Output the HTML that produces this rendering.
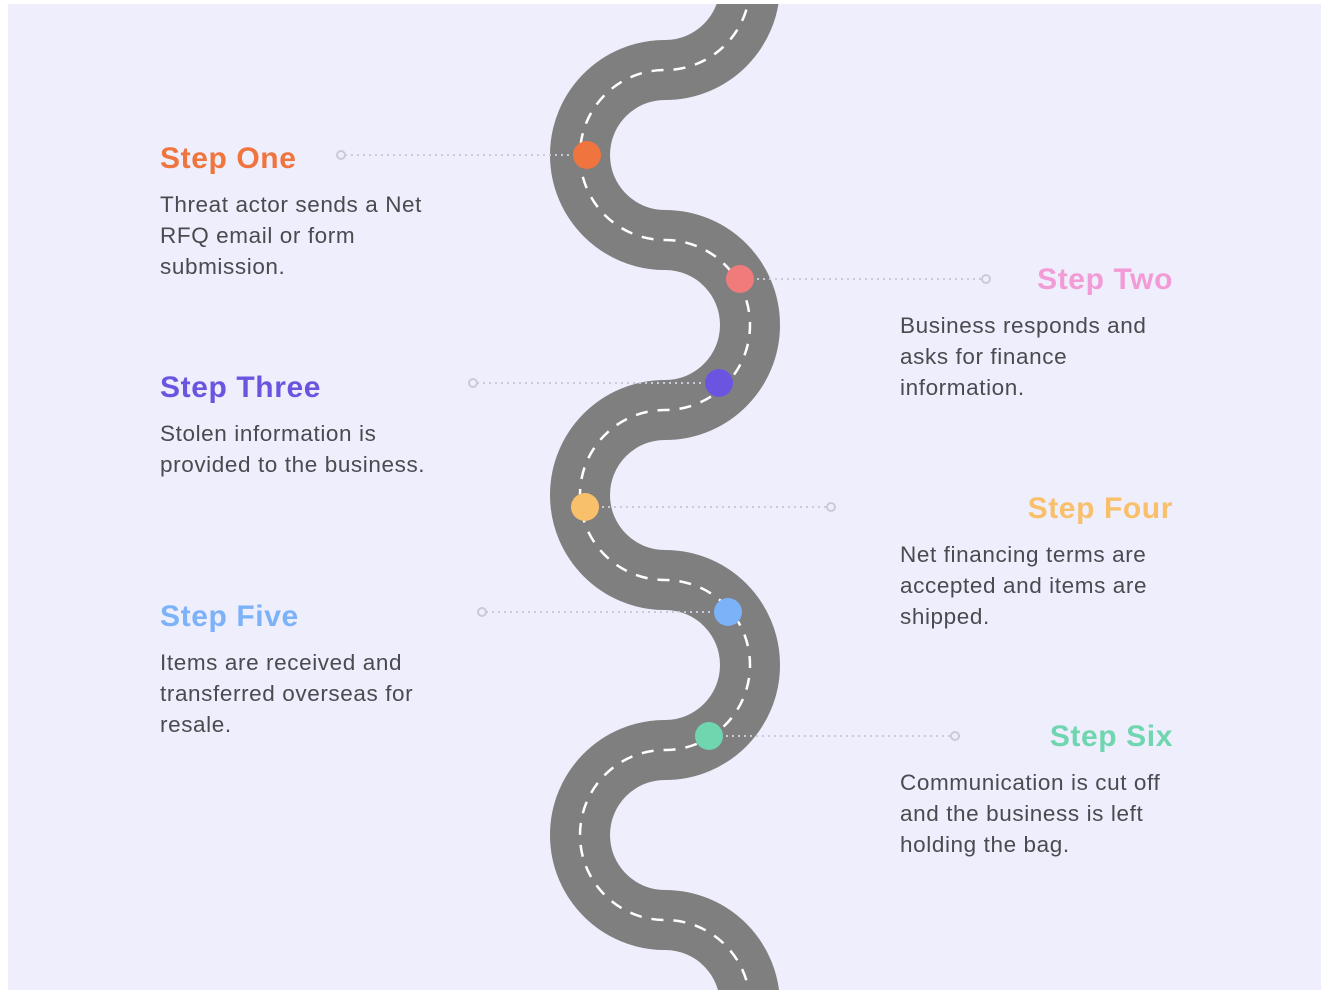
<!DOCTYPE html>
<html><head><meta charset="utf-8"><style>
html,body{margin:0;padding:0;background:#fff;width:1330px;height:998px;overflow:hidden}
svg{display:block;overflow:hidden}
.t{font-family:"Liberation Sans",Arial,sans-serif;font-weight:bold;font-size:30px;letter-spacing:0.6px}
.b{font-family:"Liberation Sans",Arial,sans-serif;font-size:22.5px;letter-spacing:0.6px;fill:#4a4a4f}
</style></head><body>
<svg width="1330" height="998" viewBox="0 0 1330 998" xmlns="http://www.w3.org/2000/svg">
<defs><clipPath id="c"><rect x="8" y="4" width="1313" height="986"/></clipPath></defs>
<rect x="8" y="4" width="1313" height="986" fill="#eeeefc"/>
<g clip-path="url(#c)">
<path d="M 750 -100 L 750 -15 C 750 32 712 70 665 70 C 618 70 580 108 580 155 C 580 202 618 240 665 240 C 712 240 750 278 750 325 C 750 372 712 410 665 410 C 618 410 580 448 580 495 C 580 542 618 580 665 580 C 712 580 750 618 750 665 C 750 712 712 750 665 750 C 618 750 580 788 580 835 C 580 882 618 920 665 920 C 712 920 750 958 750 1005 L 750 1100" fill="none" stroke="#7f7f7f" stroke-width="60"/>
<path d="M 750 -100 L 750 -15 C 750 32 712 70 665 70 C 618 70 580 108 580 155 C 580 202 618 240 665 240 C 712 240 750 278 750 325 C 750 372 712 410 665 410 C 618 410 580 448 580 495 C 580 542 618 580 665 580 C 712 580 750 618 750 665 C 750 712 712 750 665 750 C 618 750 580 788 580 835 C 580 882 618 920 665 920 C 712 920 750 958 750 1005 L 750 1100" fill="none" stroke="#fff" stroke-width="2.5" stroke-dasharray="12 10"/>
</g>
<g stroke="#c9ccd8" stroke-width="2" stroke-dasharray="2 4" fill="none">
<line x1="345" y1="155" x2="580" y2="155"/>
<line x1="745" y1="279" x2="982" y2="279"/>
<line x1="477" y1="383" x2="715" y2="383"/>
<line x1="590" y1="507" x2="827" y2="507"/>
<line x1="486" y1="612" x2="724" y2="612"/>
<line x1="714" y1="736" x2="951" y2="736"/>
</g>
<g stroke="#c9ccd8" stroke-width="2" fill="#eeeefc">
<circle cx="341" cy="155" r="4"/><circle cx="986" cy="279" r="4"/>
<circle cx="473" cy="383" r="4"/><circle cx="831" cy="507" r="4"/>
<circle cx="482" cy="612" r="4"/><circle cx="955" cy="736" r="4"/>
</g>
<circle cx="587" cy="155" r="14" fill="#f0743e"/>
<circle cx="740" cy="279" r="14" fill="#f07b7b"/>
<circle cx="719" cy="383" r="14" fill="#6b55e0"/>
<circle cx="585" cy="507" r="14" fill="#f8c06a"/>
<circle cx="728" cy="612" r="14" fill="#7bb2f8"/>
<circle cx="709" cy="736" r="14" fill="#6fd6b0"/>

<text class="t" x="160" y="168" fill="#f0743e">Step One</text>
<text class="b" x="160" y="212">Threat actor sends a Net</text>
<text class="b" x="160" y="243">RFQ email or form</text>
<text class="b" x="160" y="274">submission.</text>

<text class="t" x="1173" y="289" fill="#f39bd6" text-anchor="end">Step Two</text>
<text class="b" x="900" y="333">Business responds and</text>
<text class="b" x="900" y="364">asks for finance</text>
<text class="b" x="900" y="395">information.</text>

<text class="t" x="160" y="397" fill="#6b55e0">Step Three</text>
<text class="b" x="160" y="441">Stolen information is</text>
<text class="b" x="160" y="472">provided to the business.</text>

<text class="t" x="1173" y="518" fill="#f8c06a" text-anchor="end">Step Four</text>
<text class="b" x="900" y="562">Net financing terms are</text>
<text class="b" x="900" y="593">accepted and items are</text>
<text class="b" x="900" y="624">shipped.</text>

<text class="t" x="160" y="626" fill="#7bb2f8">Step Five</text>
<text class="b" x="160" y="670">Items are received and</text>
<text class="b" x="160" y="701">transferred overseas for</text>
<text class="b" x="160" y="732">resale.</text>

<text class="t" x="1173" y="746" fill="#6fd6b0" text-anchor="end">Step Six</text>
<text class="b" x="900" y="790">Communication is cut off</text>
<text class="b" x="900" y="821">and the business is left</text>
<text class="b" x="900" y="852">holding the bag.</text>
</svg>
</body></html>
